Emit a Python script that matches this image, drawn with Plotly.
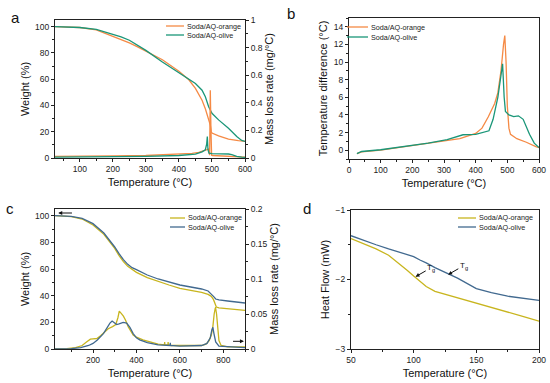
import plotly.graph_objects as go

# ---------------- data ----------------
# Panel a: TG (weight %) and DTG (mass loss rate)
a_w_orange_T = [25, 100, 150, 200, 225, 250, 275, 300, 350, 400, 430, 450, 470, 480, 490, 495, 498, 500, 520, 550, 580, 600]
a_w_orange   = [100, 99.3, 97.5, 92.8, 90.4, 87.6, 84.6, 81.5, 74.8, 66, 59.5, 53, 44, 37.5, 30, 25, 20, 19, 16.8, 14.4, 13.2, 12.6]
a_w_olive_T  = [25, 100, 150, 200, 225, 250, 275, 300, 350, 400, 450, 470, 480, 490, 500, 520, 550, 575, 590, 600]
a_w_olive    = [100, 99.3, 97.8, 94.2, 92.2, 89.6, 86.0, 81.9, 73, 64.7, 56.7, 51.6, 46.6, 39, 34, 29, 22.7, 16.4, 13.4, 12.6]
a_d_orange_T = [25, 100, 200, 300, 400, 440, 460, 475, 485, 490, 493, 495, 497, 499, 502, 520, 550, 580, 600]
a_d_orange   = [0.012, 0.012, 0.015, 0.018, 0.025, 0.033, 0.04, 0.05, 0.06, 0.065, 0.02, 0.49, 0.2, 0.02, 0.018, 0.015, 0.012, 0.009, 0.007]
a_d_olive_T  = [25, 100, 200, 300, 400, 450, 470, 480, 484, 486, 488, 491, 500, 530, 550, 560, 575, 590, 600]
a_d_olive    = [0.007, 0.007, 0.009, 0.012, 0.018, 0.028, 0.045, 0.06, 0.1, 0.155, 0.06, 0.035, 0.031, 0.031, 0.029, 0.024, 0.012, 0.006, 0.005]

# Panel b: DTA temperature difference
b_orange_T = [25, 40, 100, 200, 300, 350, 400, 420, 440, 460, 470, 480, 488, 492, 496, 500, 505, 510, 530, 560, 590, 600]
b_orange   = [-0.4, -0.2, 0.0, 0.5, 1.0, 1.3, 1.9, 2.5, 3.8, 5.3, 6.5, 9.0, 12.0, 13.0, 10.0, 5.0, 2.5, 1.8, 1.3, 0.9, 0.4, 0.3]
b_olive_T  = [25, 40, 100, 200, 250, 310, 360, 400, 430, 442, 455, 470, 480, 485, 490, 494, 505, 520, 535, 550, 570, 585, 600]
b_olive    = [-0.4, -0.15, 0.05, 0.5, 0.8, 1.2, 1.75, 1.8, 2.1, 2.2, 3.5, 6.0, 8.5, 9.8, 6.0, 4.4, 4.0, 3.8, 3.9, 3.5, 1.8, 0.8, 0.3]

# Panel c: TG and DTG
c_w_orange_T = [25, 100, 150, 200, 250, 280, 300, 320, 340, 360, 380, 400, 450, 500, 550, 600, 650, 700, 730, 745, 755, 762, 768, 780, 820, 900]
c_w_orange   = [100, 99.3, 97.5, 93, 86, 80, 75.5, 70, 65.5, 62, 59.5, 57.5, 53.5, 50.5, 48, 45.5, 44, 42.5, 41, 39.5, 37, 33.5, 31.5, 30.8, 30.2, 29]
c_w_olive_T  = [25, 100, 150, 200, 250, 280, 300, 320, 340, 360, 380, 400, 450, 500, 550, 600, 650, 700, 730, 745, 755, 765, 780, 820, 900]
c_w_olive    = [100, 99.4, 98, 94, 87, 81, 76.5, 71.5, 67, 63.5, 61, 59.5, 55.5, 52.5, 50, 48, 46.5, 45, 43.5, 41.5, 39.5, 37.5, 36.8, 36, 34.5]
c_d_orange_T = [25, 80, 120, 150, 170, 188, 200, 218, 235, 250, 270, 290, 305, 315, 321, 330, 340, 350, 362, 385, 400, 430, 470, 500, 529, 530, 531, 545, 546, 547, 560, 600, 650, 700, 720, 735, 745, 752, 758, 764, 769, 774, 780, 790, 820, 860, 900]
c_d_orange   = [0.0, 0.0005, 0.002, 0.005, 0.01, 0.014, 0.0145, 0.015, 0.019, 0.023, 0.029, 0.032, 0.035, 0.045, 0.054, 0.051, 0.047, 0.041, 0.032, 0.02, 0.017, 0.013, 0.009, 0.007, 0.006, 0.01, 0.006, 0.006, 0.01, 0.006, 0.005, 0.005, 0.004, 0.005, 0.007, 0.012, 0.02, 0.032, 0.05, 0.06, 0.05, 0.03, 0.012, 0.005, 0.003, 0.003, 0.003]
c_d_olive_T  = [25, 100, 143, 180, 200, 220, 248, 265, 278, 288, 298, 309, 320, 339, 355, 370, 385, 400, 415, 450, 500, 555, 556, 557, 600, 650, 700, 725, 740, 747, 752, 757, 765, 780, 820, 900]
c_d_olive    = [0.0, 0.0005, 0.002, 0.005, 0.008, 0.013, 0.022, 0.031, 0.037, 0.04, 0.038, 0.035, 0.036, 0.038, 0.037, 0.031, 0.022, 0.016, 0.013, 0.009, 0.006, 0.005, 0.009, 0.005, 0.004, 0.004, 0.005, 0.008, 0.016, 0.027, 0.031, 0.022, 0.01, 0.004, 0.003, 0.002]

# Panel d: DSC heat flow
d_T        = [50, 60, 70, 80, 90, 95, 100, 105, 110, 117, 125, 135, 150, 162, 175, 187, 200]
d_orange   = [-1.41, -1.48, -1.56, -1.65, -1.79, -1.87, -1.95, -2.03, -2.1, -2.17, -2.21, -2.26, -2.34, -2.4, -2.46, -2.53, -2.6]
d_olive    = [-1.37, -1.44, -1.5, -1.56, -1.62, -1.645, -1.67, -1.72, -1.76, -1.83, -1.9, -1.98, -2.13, -2.19, -2.24, -2.27, -2.3]
# glass transition markers (curve point, label point) for each sample
tg_points = [(101.5, -1.96, 114, -1.83), (127.5, -1.93, 140, -1.8)]

names = ["Soda/AQ-orange", "Soda/AQ-olive"]
tick_a_x = [100, 200, 300, 400, 500, 600]
tick_b_x = [0, 100, 200, 300, 400, 500, 600]
tick_c_x = [200, 400, 600, 800]
tick_d_x = [50, 100, 150, 200]

# ---------------- style ----------------
ORANGE = "#F58A45"
TEAL = "#1A9678"
GOLD = "#C8B51E"
BLUE = "#41698F"
FONT = "Liberation Sans, Arial, sans-serif"
LW = 1.3

W, H = 550, 383
def px(x): return x / W
def py(y): return 1 - y / H

fig = go.Figure()

def line(x, y, color, xa, ya, name=None):
    fig.add_trace(go.Scatter(x=x, y=y, mode="lines", line=dict(color=color, width=LW),
                             xaxis=xa, yaxis=ya, name=name, showlegend=False, hoverinfo="skip"))

# a
line(a_w_orange_T, a_w_orange, ORANGE, "x", "y", names[0])
line(a_w_olive_T, a_w_olive, TEAL, "x", "y", names[1])
line(a_d_orange_T, a_d_orange, ORANGE, "x", "y2")
line(a_d_olive_T, a_d_olive, TEAL, "x", "y2")
# b
line(b_orange_T, b_orange, ORANGE, "x2", "y3", names[0])
line(b_olive_T, b_olive, TEAL, "x2", "y3", names[1])
# c
line(c_w_orange_T, c_w_orange, GOLD, "x3", "y4", names[0])
line(c_w_olive_T, c_w_olive, BLUE, "x3", "y4", names[1])
line(c_d_orange_T, c_d_orange, GOLD, "x3", "y5")
line(c_d_olive_T, c_d_olive, BLUE, "x3", "y5")
# d
line(d_T, d_orange, GOLD, "x4", "y6", names[0])
line(d_T, d_olive, BLUE, "x4", "y6", names[1])

tickfont = dict(family=FONT, size=8.5, color="#222")
titlefont = dict(family=FONT, size=11, color="#111")

def ax(domain, rng, tickvals, title, anchor, side=None, overlaying=None, minor_dtick=None,
       ticktext=None, standoff=4, mirror=True):
    d = dict(domain=domain, range=rng, tickvals=tickvals, ticks="outside", ticklen=3,
             tickwidth=1, tickcolor="#222", showline=True, linecolor="#222", linewidth=1,
             mirror=mirror, showgrid=False, zeroline=False, tickfont=tickfont,
             title=dict(text=title, font=titlefont, standoff=standoff), anchor=anchor,
             automargin=False, fixedrange=True)
    if ticktext is not None:
        d["ticktext"] = ticktext
    if side:
        d["side"] = side
    if overlaying:
        d["overlaying"] = overlaying
    if minor_dtick:
        d["minor"] = dict(dtick=minor_dtick, ticks="outside", ticklen=2, tickcolor="#222")
    return d

ax_a = [px(55), px(245)]
ax_b = [px(349), px(539)]
ax_c = [px(55), px(245)]
ax_d = [px(351), px(539)]
ay_top = [py(158), py(20)]
ay_b = [py(159), py(18)]
ay_c = [py(349), py(209)]
ay_d = [py(349), py(210)]

T = "Temperature (°C)"
fig.update_layout(
    width=W, height=H, margin=dict(l=0, r=0, t=0, b=0),
    paper_bgcolor="white", plot_bgcolor="white", showlegend=False,
    font=dict(family=FONT, color="#111"),
    xaxis=ax(ax_a, [25, 600], tick_a_x, T, "y", minor_dtick=50, standoff=5),
    yaxis=ax(ay_top, [0, 105], [0, 20, 40, 60, 80, 100], "Weight (%)", "x", minor_dtick=10, standoff=3, mirror=False),
    yaxis2=ax(ay_top, [0, 1], [0, 0.2, 0.4, 0.6, 0.8, 1], "Mass loss rate (mg/°C)", "x",
              side="right", overlaying="y", ticktext=["0", "0.2", "0.4", "0.6", "0.8", "1"], minor_dtick=0.1, standoff=3, mirror=False),
    xaxis2=ax(ax_b, [0, 600], tick_b_x, T, "y3", minor_dtick=50, standoff=5),
    yaxis3=ax(ay_b, [-1, 15], [0, 2, 4, 6, 8, 10, 12, 14], "Temperature difference (°C)", "x2", minor_dtick=1, standoff=3),
    xaxis3=ax(ax_c, [25, 900], tick_c_x, T, "y4", minor_dtick=100, standoff=5),
    yaxis4=ax(ay_c, [0, 105], [0, 20, 40, 60, 80, 100], "Weight (%)", "x3", minor_dtick=10, standoff=3, mirror=False),
    yaxis5=ax(ay_c, [0, 0.2], [0, 0.05, 0.1, 0.15, 0.2], "Mass loss rate (mg/°C)", "x3",
              side="right", overlaying="y4", ticktext=["0", "0.05", "0.1", "0.15", "0.2"], minor_dtick=0.025, standoff=3, mirror=False),
    xaxis4=ax(ax_d, [50, 200], tick_d_x, T, "y6", minor_dtick=25, standoff=5),
    yaxis6=ax(ay_d, [-3, -1], [-3, -2, -1], "Heat Flow (mW)", "x4", minor_dtick=0.5, standoff=3),
)

# compact legends (sample line + label), positioned in page pixels
legfont = dict(family=FONT, size=7.2, color="#222")
legends = [
    (166, 184, 26, 35, ORANGE, TEAL),
    (347, 368, 27, 37, ORANGE, TEAL),
    (170, 185, 218, 227, GOLD, BLUE),
    (458, 476, 218, 227, GOLD, BLUE),
]
for x1, x2, y1, y2, c1, c2 in legends:
    for yy, cc, nm in [(y1, c1, names[0]), (y2, c2, names[1])]:
        fig.add_shape(type="line", xref="paper", yref="paper", x0=px(x1), x1=px(x2),
                      y0=py(yy), y1=py(yy), line=dict(color=cc, width=LW))
        fig.add_annotation(text=nm, x=px(x2 + 1), y=py(yy), xref="paper", yref="paper",
                           showarrow=False, font=legfont, xanchor="left", yanchor="middle")

# panel letters
for lab, x, y in [("a", 15, 17), ("b", 291, 14), ("c", 10, 208), ("d", 307, 208)]:
    fig.add_annotation(text=lab, x=px(x), y=py(y), xref="paper", yref="paper",
                       showarrow=False, font=dict(family=FONT, size=15, color="#111"),
                       xanchor="center", yanchor="middle")

# axis-indicator arrows in c
fig.add_annotation(x=40, y=102, ax=110, ay=102, xref="x3", yref="y4", axref="x3", ayref="y4",
                   showarrow=True, arrowhead=2, arrowsize=0.8, arrowwidth=1, arrowcolor="#111", text="")
fig.add_annotation(x=895, y=0.011, ax=838, ay=0.011, xref="x3", yref="y5", axref="x3", ayref="y5",
                   showarrow=True, arrowhead=2, arrowsize=0.8, arrowwidth=1, arrowcolor="#111", text="")

# Tg labels with arrows pointing at the curves in d
for hx, hy, lx, ly in tg_points:
    fig.add_annotation(x=hx, y=hy, ax=lx, ay=ly, xref="x4", yref="y6", axref="x4", ayref="y6",
                       text="T<sub>g</sub>", showarrow=True, arrowhead=2, arrowsize=0.8,
                       arrowwidth=1, arrowcolor="#111", standoff=0,
                       font=dict(family=FONT, size=8, color="#111"))

fig.write_html("out.html", config={"displayModeBar": False},
               post_script="document.body.style.margin='0';document.body.style.padding='0';")
